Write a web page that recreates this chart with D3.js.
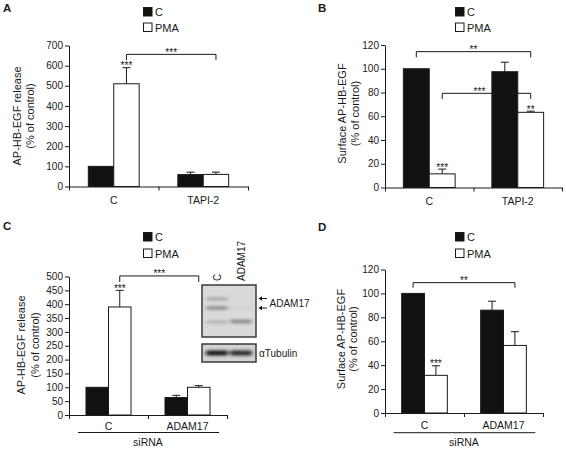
<!DOCTYPE html>
<html><head><meta charset="utf-8">
<script src="https://cdn.jsdelivr.net/npm/d3@7"></script>
<style>
body{margin:0;background:#fff;}
svg text{font-family:"Liberation Sans",Arial,Helvetica,sans-serif;fill:#1a1a1a;}
</style></head><body>
<svg id="fig" width="566" height="453"></svg>
<script>
// ---------------- DATA ----------------
const seriesNames = ["C", "PMA"];

// Panel A
const aGroups = ["C", "TAPI-2"];
const aValC = [100, 59];
const aErrC = [0, 12];
const aValPMA = [510, 60];
const aErrPMA = [80, 11];
const aTicks = [0, 100, 200, 300, 400, 500, 600, 700];
const aSig = [{group: "C", series: "PMA", text: "***"}];
const aBrackets = [{from: ["C", "PMA"], to: ["TAPI-2", "PMA"], top: 656, drop: 628, text: "***"}];

// Panel B
const bGroups = ["C", "TAPI-2"];
const bValC = [100, 97.5];
const bErrC = [0, 8];
const bValPMA = [11.5, 63.3];
const bErrPMA = [4, 1];
const bTicks = [0, 20, 40, 60, 80, 100, 120];
const bSig = [{group: "C", series: "PMA", text: "***"}, {group: "TAPI-2", series: "PMA", text: "**"}];
const bBrackets = [
  {from: ["C", "C"], to: ["TAPI-2", "PMA"], top: 114.4, drop: 109.6, text: "**"},
  {from: ["C", "PMA"], to: ["TAPI-2", "PMA"], top: 79.3, drop: 74.5, text: "***"}
];

// Panel C
const cGroups = ["C", "ADAM17"];
const cValC = [100, 63];
const cErrC = [0, 8];
const cValPMA = [390, 100];
const cErrPMA = [60, 6];
const cTicks = [0, 50, 100, 150, 200, 250, 300, 350, 400, 450, 500];
const cSig = [{group: "C", series: "PMA", text: "***"}];
const cBrackets = [{from: ["C", "PMA"], to: ["ADAM17", "PMA"], top: 502, drop: 480, text: "***"}];

// Panel D
const dGroups = ["C", "ADAM17"];
const dValC = [100, 86];
const dErrC = [0, 7.5];
const dValPMA = [31.5, 56.5];
const dErrPMA = [8, 11.5];
const dTicks = [0, 20, 40, 60, 80, 100, 120];
const dSig = [{group: "C", series: "PMA", text: "***"}];
const dBrackets = [{from: ["C", "C"], to: ["ADAM17", "PMA"], top: 109, drop: 104.8, text: "**"}];

// Western blot inset (panel C)
const blotLanes = ["C", "ADAM17"];
const adamBands = [ // relative position in blot (0 top .. 1 bottom), darkness
  {lane: "C", pos: 0.27, dark: 0.22},
  {lane: "C", pos: 0.44, dark: 0.36},
  {lane: "C", pos: 0.71, dark: 0.18},
  {lane: "ADAM17", pos: 0.44, dark: 0.04},
  {lane: "ADAM17", pos: 0.70, dark: 0.40}
];
const tubulinBands = [
  {lane: "C", pos: 0.5, dark: 0.9},
  {lane: "ADAM17", pos: 0.5, dark: 0.8}
];

// ---------------- LAYOUT ----------------
const svg = d3.select("#fig");
const defs = svg.append("defs");
defs.append("filter").attr("id", "blur").attr("x", "-30%").attr("y", "-100%").attr("width", "160%").attr("height", "300%")
  .append("feGaussianBlur").attr("stdDeviation", "2 1.4");

const panels = [
  {letter: "A", lx: 3, ly: 12, groups: aGroups, vals: [aValC, aValPMA], errs: [aErrC, aErrPMA], ticks: aTicks,
   sig: aSig, brackets: aBrackets, labelShift: [0], x0: 69, x1: 248, y0: 186.5, y1: 45.5, pad: 0.76,
   legX: 143, legY: 7, legDy: 15.5, title: ["AP-HB-EGF release", "(% of control)"], tx: [20.5, 34], ty: 116, labDy: 17, siRNA: null},
  {letter: "B", lx: 318, ly: 12, groups: bGroups, vals: [bValC, bValPMA], errs: [bErrC, bErrPMA], ticks: bTicks,
   sig: bSig, brackets: bBrackets, labelShift: [0, -7], x0: 385, x1: 562, y0: 187.5, y1: 45, pad: 0.71,
   legX: 455, legY: 7, legDy: 15.5, title: ["Surface AP-HB-EGF", "(% of control)"], tx: [345.5, 358.5], ty: 113.5, labDy: 17.5, siRNA: null},
  {letter: "C", lx: 3, ly: 230, groups: cGroups, vals: [cValC, cValPMA], errs: [cErrC, cErrPMA], ticks: cTicks,
   sig: cSig, brackets: cBrackets, labelShift: [0], x0: 69, x1: 227, y0: 415, y1: 276.5, pad: 0.755,
   legX: 143, legY: 232, legDy: 16.5, title: ["AP-HB-EGF release", "(% of control)"], tx: [25, 38.5], ty: 345, labDy: 15, siRNA: {y: 432.5, ty: 446}},
  {letter: "D", lx: 318, ly: 231, groups: dGroups, vals: [dValC, dValPMA], errs: [dErrC, dErrPMA], ticks: dTicks,
   sig: dSig, brackets: dBrackets, labelShift: [0], x0: 385, x1: 543, y0: 413, y1: 269.5, pad: 0.73,
   legX: 455, legY: 232, legDy: 16.5, title: ["Surface AP-HB-EGF", "(% of control)"], tx: [344.5, 357], ty: 339, labDy: 16, siRNA: {y: 432.7, ty: 446}}
];

const ink = "#1a1a1a";

panels.forEach(p => {
  const g = svg.append("g");
  const tmax = p.ticks[p.ticks.length - 1];
  const y = d3.scaleLinear().domain([0, tmax]).range([p.y0, p.y1]);
  const xg = d3.scaleBand().domain(p.groups).range([p.x0, p.x1]).paddingInner(0).paddingOuter(0);
  const xs = d3.scaleBand().domain(seriesNames).range([0, xg.bandwidth()]).paddingInner(0).paddingOuter(p.pad);
  const cx = (grp, s) => xg(grp) + xs(s) + xs.bandwidth() / 2;

  // panel letter
  g.append("text").attr("x", p.lx).attr("y", p.ly).attr("font-size", 11.5).attr("font-weight", "bold").text(p.letter);

  // legend
  const leg = g.append("g");
  seriesNames.forEach((s, i) => {
    leg.append("rect").attr("x", p.legX + 0.5).attr("y", p.legY + i * p.legDy + 0.5).attr("width", 8.5).attr("height", 8.5)
      .attr("fill", i === 0 ? "#111" : "#fff").attr("stroke", ink).attr("stroke-width", 1);
    leg.append("text").attr("x", p.legX + 12).attr("y", p.legY + i * p.legDy + 9).attr("font-size", 11).text(s);
  });

  // bars
  p.vals.forEach((arr, si) => {
    const s = seriesNames[si];
    p.groups.forEach((grp, gi) => {
      const v = arr[gi];
      const e = p.errs[si][gi];
      const bx = xg(grp) + xs(s);
      if (e > 0) {
        const ex = bx + xs.bandwidth() / 2;
        g.append("line").attr("x1", ex).attr("x2", ex).attr("y1", y(v)).attr("y2", y(v + e)).attr("stroke", ink).attr("stroke-width", 1);
        g.append("line").attr("x1", ex - 4).attr("x2", ex + 4).attr("y1", y(v + e)).attr("y2", y(v + e)).attr("stroke", ink).attr("stroke-width", 1);
      }
      g.append("rect").attr("x", bx).attr("y", y(v)).attr("width", xs.bandwidth()).attr("height", y(0) - y(v))
        .attr("fill", si === 0 ? "#111" : "#fff").attr("stroke", ink).attr("stroke-width", 1);
    });
  });

  // y axis
  const ya = g.append("g").attr("transform", `translate(${p.x0},0)`)
    .call(d3.axisLeft(y).tickValues(p.ticks).tickSize(4).tickSizeOuter(0).tickPadding(2).tickFormat(d3.format("d")));
  ya.selectAll("text").attr("font-size", 10).style("fill", ink);
  ya.selectAll("path,line").attr("stroke", ink);

  // x axis (line + ticks at ends and middle)
  const xl = d3.scaleLinear().domain([0, p.groups.length]).range([p.x0, p.x1]);
  const xa = g.append("g").attr("transform", `translate(0,${p.y0})`)
    .call(d3.axisBottom(xl).tickValues(d3.range(p.groups.length + 1)).tickSize(4).tickSizeOuter(0).tickFormat(""));
  xa.selectAll("path,line").attr("stroke", ink);

  // category labels
  p.groups.forEach(grp => {
    g.append("text").attr("x", xg(grp) + xg.bandwidth() / 2).attr("y", p.y0 + p.labDy)
      .attr("text-anchor", "middle").attr("font-size", 10.5).text(grp);
  });

  // y title
  p.title.forEach((t, i) => {
    g.append("text").attr("transform", `translate(${p.tx[i]},${p.ty}) rotate(-90)`)
      .attr("text-anchor", "middle").attr("font-size", 11).text(t);
  });

  // significance above bars
  p.sig.forEach(sg => {
    const si = seriesNames.indexOf(sg.series), gi = p.groups.indexOf(sg.group);
    const top = p.vals[si][gi] + p.errs[si][gi];
    g.append("text").attr("x", cx(sg.group, sg.series)).attr("y", y(top) + 1.5)
      .attr("text-anchor", "middle").attr("font-size", 10).style("fill", "#111").text(sg.text);
  });

  // brackets
  p.brackets.forEach((b, bi) => {
    const xa1 = cx(b.from[0], b.from[1]), xa2 = cx(b.to[0], b.to[1]);
    const path = d3.path();
    path.moveTo(xa1, y(b.drop)); path.lineTo(xa1, y(b.top)); path.lineTo(xa2, y(b.top)); path.lineTo(xa2, y(b.drop));
    g.append("path").attr("d", path.toString()).attr("fill", "none").attr("stroke", ink).attr("stroke-width", 1);
    g.append("text").attr("x", (xa1 + xa2) / 2 + (p.labelShift[bi] || 0)).attr("y", y(b.top) + 1.5)
      .attr("text-anchor", "middle").attr("font-size", 10).style("fill", "#111").text(b.text);
  });

  // siRNA
  if (p.siRNA) {
    const first = xg(p.groups[0]) + xs(seriesNames[0]) - 8;
    const last = xg(p.groups[p.groups.length - 1]) + xs(seriesNames[1]) + xs.bandwidth() + 9;
    g.append("line").attr("x1", first).attr("x2", last).attr("y1", p.siRNA.y).attr("y2", p.siRNA.y).attr("stroke", ink).attr("stroke-width", 1);
    g.append("text").attr("x", (p.x0 + p.x1) / 2).attr("y", p.siRNA.ty).attr("text-anchor", "middle").attr("font-size", 10.5).text("siRNA");
  }
});

// ---------------- BLOT INSET ----------------
const blot = svg.append("g");
const laneX = d3.scaleBand().domain(blotLanes).range([203, 255]).paddingInner(0.08).paddingOuter(0.12);
function drawBlot(top, h, bands, bandH, base) {
  blot.append("rect").attr("x", 202).attr("y", top).attr("width", 54).attr("height", h).attr("fill", base);
  const by = d3.scaleLinear().domain([0, 1]).range([top, top + h]);
  const gb = blot.append("g").attr("filter", "url(#blur)");
  bands.forEach(b => {
    gb.append("rect").attr("x", laneX(b.lane)).attr("y", by(b.pos) - bandH / 2).attr("width", laneX.bandwidth())
      .attr("height", bandH).attr("rx", 2).attr("fill", "#000").attr("opacity", b.dark);
  });
  blot.append("rect").attr("x", 202).attr("y", top).attr("width", 54).attr("height", h)
    .attr("fill", "none").attr("stroke", "#3a3a3a").attr("stroke-width", 1.5);
}
drawBlot(285, 52, adamBands, 3.5, "#dadada");
drawBlot(344, 18, tubulinBands, 5, "#d2d2d2");

// lane labels
blotLanes.forEach((l, i) => {
  blot.append("text").attr("transform", `translate(${laneX(l) + laneX.bandwidth() / 2 + 4},281) rotate(-90)`)
    .attr("font-size", 10).text(l);
});
// arrows
[298.5, 308].forEach(ay => {
  blot.append("line").attr("x1", 259.5).attr("x2", 267).attr("y1", ay).attr("y2", ay).attr("stroke", ink).attr("stroke-width", 1);
  blot.append("path").attr("d", `M258.5,${ay} L262,${ay - 2.2} L262,${ay + 2.2} Z`).attr("fill", ink);
});
blot.append("text").attr("x", 269.5).attr("y", 307).attr("font-size", 10).text("ADAM17");
blot.append("text").attr("x", 259).attr("y", 357).attr("font-size", 10).text("\u03B1Tubulin");
</script>
</body></html>
